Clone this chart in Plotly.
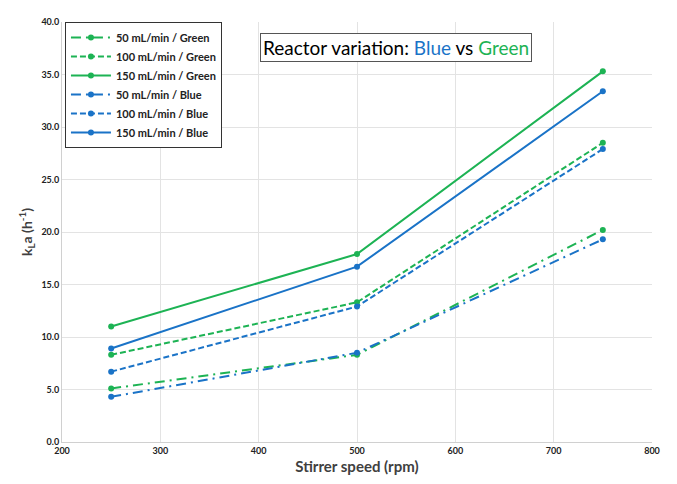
import plotly.graph_objects as go

speeds = [250, 500, 750]
green_50 = [5.1, 8.3, 20.2]
green_100 = [8.3, 13.3, 28.5]
green_150 = [11.0, 17.9, 35.3]
blue_50 = [4.3, 8.5, 19.3]
blue_100 = [6.7, 12.9, 27.9]
blue_150 = [8.9, 16.7, 33.4]

GREEN = "#1DB354"
BLUE = "#1A73C7"

DASHDOT = "10px,5px,2px,5px"
DASH = "6px,3px"

series = [
    ("50 mL/min / Green", green_50, GREEN, DASHDOT),
    ("100 mL/min / Green", green_100, GREEN, DASH),
    ("150 mL/min / Green", green_150, GREEN, "solid"),
    ("50 mL/min / Blue", blue_50, BLUE, DASHDOT),
    ("100 mL/min / Blue", blue_100, BLUE, DASH),
    ("150 mL/min / Blue", blue_150, BLUE, "solid"),
]

fig = go.Figure()
for name, vals, col, dash in series:
    fig.add_trace(go.Scatter(
        x=speeds, y=vals, name=name, mode="lines+markers",
        line=dict(color=col, width=2, dash=dash),
        marker=dict(color=col, size=6),
    ))

fig.update_layout(
    width=677, height=484,
    margin=dict(l=62, r=25, t=22, b=38),
    paper_bgcolor="white", plot_bgcolor="white",
    font=dict(family="Lato, Open Sans, sans-serif", color="#404040"),
    legend=dict(
        x=0.005, y=1.0, xanchor="left", yanchor="top",
        bgcolor="white", bordercolor="#333333", borderwidth=1,
        font=dict(size=11, color="#222222", family="Lato, sans-serif", weight="bold"),
        tracegroupgap=0, itemwidth=40,
    ),
    xaxis=dict(
        range=[200, 800], dtick=100, tick0=200,
        showgrid=True, gridcolor="#E3E3E3", gridwidth=1,
        showline=True, linecolor="#D0D0D0", zeroline=False,
        tickfont=dict(size=9, color="#222222", family="Lato, sans-serif", weight="bold"),
        title=dict(text="Stirrer speed (rpm)", font=dict(size=15, color="#404040", family="Lato, sans-serif", weight="bold"), standoff=6),
        ticks="",
    ),
    yaxis=dict(
        range=[0, 40], dtick=5, tickformat=".1f",
        showgrid=True, gridcolor="#E3E3E3", gridwidth=1,
        showline=True, linecolor="#D0D0D0", zeroline=False,
        tickfont=dict(size=9, color="#222222", family="Lato, sans-serif", weight="bold"),
        title=dict(text="<b>k<sub>L</sub>a (h<sup>-1</sup>)</b>", font=dict(size=14, color="#404040"), standoff=5),
        ticks="",
    ),
    annotations=[dict(
        x=0.566, y=0.975, xref="paper", yref="paper", xanchor="center", yanchor="top",
        text="Reactor variation: <span style='color:#1A73C7'>Blue</span> vs <span style='color:#1DB354'>Green</span>",
        showarrow=False, font=dict(size=19, color="black", family="Lato, sans-serif"),
        bordercolor="#555555", borderwidth=1, borderpad=2, bgcolor="white",
    )],
)

fig.write_html("out.html")
